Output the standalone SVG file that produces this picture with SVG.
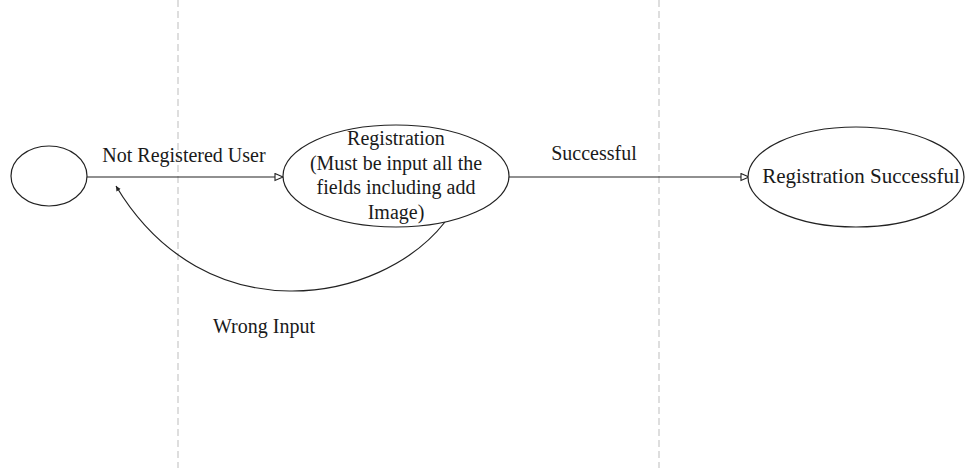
<svg xmlns="http://www.w3.org/2000/svg" width="965" height="468" viewBox="0 0 965 468">
  <defs>
    <style>
      .lane { stroke: #c8c8c8; stroke-width: 1.2; stroke-dasharray: 7 4; fill: none; }
      .node { fill: #ffffff; stroke: #222222; stroke-width: 1.2; }
      .edge { fill: none; stroke: #222222; stroke-width: 1.2; }
      .label { font-family: "Liberation Serif", "Times New Roman", serif; font-size: 20px; fill: #1a1a1a; text-anchor: middle; }
      .wide { font-size: 21px; }
    </style>
    <marker id="open-tri" markerWidth="12" markerHeight="10" refX="9" refY="4" orient="auto" markerUnits="userSpaceOnUse">
      <path d="M1,0.5 L9,4 L1,7.5 Z" fill="#ffffff" stroke="#222222" stroke-width="1.1"/>
    </marker>
    <marker id="small-tip" markerWidth="8" markerHeight="8" refX="5" refY="3" orient="auto" markerUnits="userSpaceOnUse">
      <path d="M0,0.5 L5,3 L0,5.5 Z" fill="#222222"/>
    </marker>
  </defs>

  <rect width="965" height="468" fill="#ffffff"/>

  <!-- swimlane separators -->
  <line class="lane" x1="178" y1="0" x2="178" y2="468"/>
  <line class="lane" x1="659" y1="0" x2="659" y2="468"/>

  <g id="connectors">
    <line class="edge" x1="87" y1="177" x2="283" y2="177" marker-end="url(#open-tri)"/>
    <line class="edge" x1="509" y1="177" x2="749" y2="177" marker-end="url(#open-tri)"/>
    <path class="edge" d="M445,222 C380,305 205,335 116,186" marker-end="url(#small-tip)"/>
    <text class="label" x="184" y="162">Not Registered User</text>
    <text class="label" x="594" y="160">Successful</text>
    <text class="label" x="264" y="333">Wrong Input</text>
  </g>

  <g id="start">
    <ellipse class="node" cx="49" cy="176" rx="38" ry="30"/>
  </g>

  <g id="registration">
    <ellipse class="node" cx="396" cy="176" rx="113" ry="51"/>
    <text class="label" x="396" y="145">Registration</text>
    <text class="label" x="396" y="170">(Must be input all the</text>
    <text class="label" x="396" y="194">fields including add</text>
    <text class="label" x="396" y="219">Image)</text>
  </g>

  <g id="registration-successful">
    <ellipse class="node" cx="856" cy="177" rx="108" ry="50"/>
    <text class="label wide" x="861" y="183">Registration Successful</text>
  </g>
</svg>
